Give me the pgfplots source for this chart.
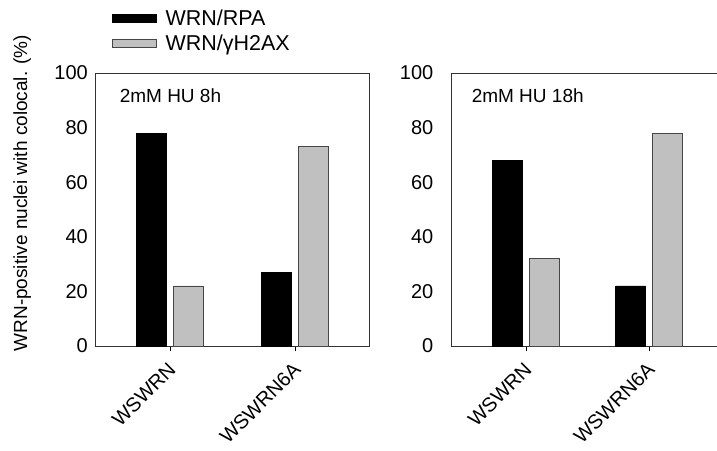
\documentclass[border=0pt]{standalone}
\usepackage{pgfplots}
\pgfplotsset{compat=1.18}
\usepackage{fontspec}
\setmainfont{Liberation Sans}
\definecolor{lgray}{RGB}{192,192,192}
\definecolor{edgegray}{RGB}{70,70,70}
\pgfplotsset{
  myax/.style={
    ybar=7pt, bar width=30pt,
    scale only axis, height=273pt,
    ymin=0, ymax=100, ytick={0,20,...,100},
    xtick={0,1}, xticklabels={WSWRN,WSWRN6A},
    xtick pos=lower, xtick align=outside,
    major x tick style={black, line width=0.8pt},
    major tick length=5pt,
    ytick style={draw=none},
    axis line style={line width=1pt, black!80},
    tick label style={font=\fontsize{20}{22}\selectfont},
    /pgf/number format/assume math mode=true,
    xticklabel style={xshift=-3pt, yshift=-7pt, rotate=45, anchor=north east, inner sep=2pt, font=\fontsize{20}{22}\selectfont},
  },
  blk/.style={fill=black, draw=black},
  gry/.style={fill=lgray, draw=edgegray, line width=0.8pt},
}
\begin{document}
\begin{tikzpicture}
\path[use as bounding box] (0pt,0pt) rectangle (717pt,-450pt);
\begin{axis}[myax, at={(96pt,-73pt)}, anchor=north west, width=273pt,
  xmin=-0.592, xmax=1.592,
  yticklabel style={inner sep=0pt, xshift=-8pt},
  ylabel={WRN-positive nuclei with colocal. (\%)},
  ylabel style={at={(axis description cs:-0.27,0.56)}, anchor=center, rotate=0, font=\fontsize{19}{22}\selectfont},
  legend style={at={(axis description cs:0.057,1.24)}, anchor=north west, draw=none, fill=none,
     font=\fontsize{21.5}{24}\selectfont, legend cell align=left, row sep=4pt, inner sep=0pt,
     /tikz/every even column/.append style={column sep=0pt}},
  legend image code/.code={\draw[#1] (0pt,-4pt) rectangle (44pt,4pt);},
  ]
\addplot[blk] coordinates {(0,78) (1,27)};
\addplot[gry] coordinates {(0,22) (1,73)};
\legend{\hspace{7pt}WRN/RPA,\hspace{7pt}WRN/γH2AX}
\node[anchor=west, font=\fontsize{19}{24}\selectfont] at (axis cs:-0.43,91.5) {2mM HU 8h};
\end{axis}
\begin{axis}[myax, at={(451pt,-73pt)}, anchor=north west, width=266pt,
  xmin=-0.61, xmax=1.553,
  yticklabel style={inner sep=0pt, xshift=-15pt},
  axis x line=box, axis y line=left, y axis line style={-},
  ]
\addplot[blk] coordinates {(0,68) (1,22)};
\addplot[gry] coordinates {(0,32) (1,78)};
\node[anchor=west, font=\fontsize{19}{24}\selectfont] at (axis cs:-0.47,91.5) {2mM HU 18h};
\end{axis}
\end{tikzpicture}
\end{document}
